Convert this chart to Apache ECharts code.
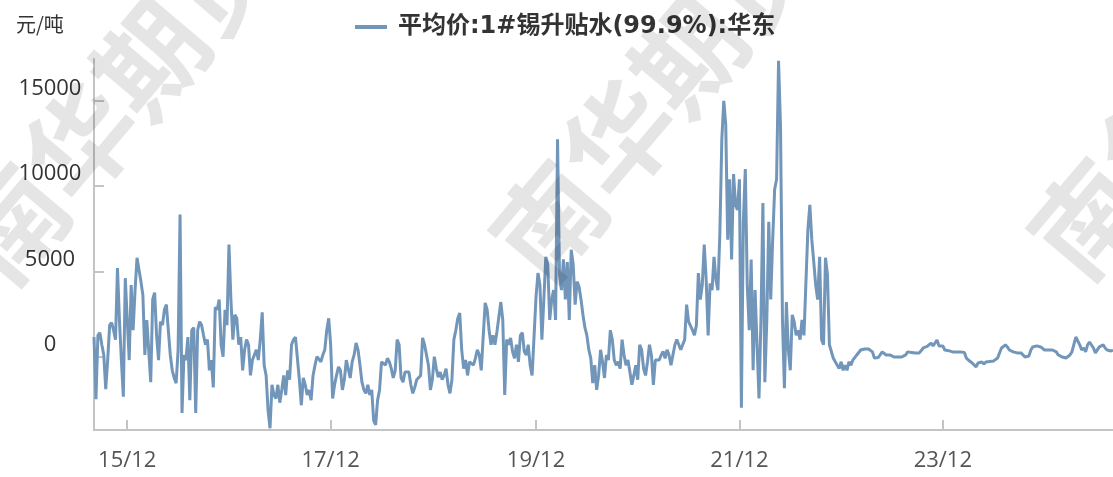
<!DOCTYPE html>
<html><head><meta charset="utf-8">
<script src="https://cdn.jsdelivr.net/npm/echarts@6/dist/echarts.min.js"></script>
<style>html,body{margin:0;padding:0;background:#fff}#c{width:1113px;height:477px}</style>
</head><body><div id="c"></div>
<script>
const seriesName = '平均价:1#锡升贴水(99.9%):华东';
const unitLabel = '元/吨';
const watermarkText = '南华期货';
const firstWeek = '2015-08-07';
const xTickDates = ['2015-12-04','2017-12-01','2019-12-06','2021-12-03','2023-12-01'];
const yTickValues = [0, 5000, 10000, 15000];

// weekly values
const valsA = [1150,-2500,1250,1400,700,100,-1900,-200,1850,2000,
1550,1000,5200,2150,-200,-2350,4600,2150,-200,4200,
1550,3900,5800,5100,4400,3600,100,2150,2250,-1500,
3350,3750,1250,-200,2050,1850,2750,3050,1550,100,
-800,-1250,-1550,400,8330,-3300,100,-200,1150,-2550,
1550,1700,-3300,1550,2050,1850,1250,700,1000,-800,
-200,-1800,2900,2750,3350,700,0,2750,1850,6570,
3350,1000,2450,2250,700,1150,-800,400,1000,700,
-1100,-200,100,400,-200,1000,2600,-500,-1100,-3150,
-4200,-1650,-2250,-2450,-1650,-2700,-1950,-1100,-2250,-800,
-1350];
const valsB = [700,1000,1150,1250,-1350,-2850,-1250,-1650,-2250,-1950,
-2550,-1100,-500,0,-100,-300,100,400,1550,2250,
700,-2450,-1650,-1100,-600,-800,-1950,-1350,-200,-300,
-1250,-300,100,800,400,-500,-1500,-1950,-2150,-1650,
-2250,-1950,-3750,-4000,-2550,-1950,-300,-200,-500,-100,
-300,-700,-1250,-800,1000,700,-1250,-1500,-900,-800,
-900,-1650,-2150,-1800,-1350,-1250,-1100,1100,700,100,
-500,-1950,-1350,0,-700,-1200,-900,-1350,-1100,-700,
-1650,-2150,-1350,1000,1550,2250,2550,400,-700,-200,
-1100,-300,-200,-500,-100,400,100];
const valsC = [-800,-900,3150,2750,1550,700,1250,700,1450,1550,
3200,2150,-2250,1000,700,1100,300,-100,700,-300,
1250,1400,300,100,700,-500,-1100,-1100,3500,4900,
4200,1000,3350,5850,5400,2150,3350,3900,2150,12740,
4800,3900,5700,3350,5550,2150,6270,5400,3050,4400,
4100,3350,2450,1700,1250,400,-100,-1550,-500,-1950,
-1100,400,-300,-1250,100,-200,1550,1000,-200,-500,
-300,-700,1000,100,-500,-200,-900,-1650,-1100,-500,
-1350,700,400,-700,-1100,-300,700,100,-1650,-200,
-100,-200,100,300,-100,400,100];
const valsD = [-500,100,700,1000,700,400,700,1000,3050,2050,
1800,1550,1250,1850,4900,3350,4200,6570,4500,1250,
4300,3900,5850,4500,3900,7250,12740,15000,13600,6860,
10400,5700,10700,8900,8600,10400,-3000,7900,11000,4200,
1550,5700,-800,3900,700,-2450,2150,9000,-1500,2150,
7900,3350,6860,9800,10400,17350,13500,2150,-1850,3200,
400,-800,2450,2050,1250,1550,1000,2150,1250,1250,
7450,8900,6860,5550,4200,3350,5850,1000,700,5800,
4800,700,300,-100,-300,-500,-700,-300,-800,-500,
-800,-300,-500,-200,-100,100,0];
const valsE = [390,390,450,450,450,450,280,-80,-80,-50,
-50,280,390,100,100,100,0,-20,-20,-20,
-20,-20,0,100,280,280,250,220,220,220,
220,300,510,510,600,690,800,630,800,980,
630,570,630,390,390,350,280,280,280,280,
280,280,280,250,-80,-200,-250,-370,-370,-600,
-370,-310,-310,-430,-310,-310,-280,-250,-250,-200,
-80,-50,510,570,690,570,390,330,280,280,
220,220,220,100,-20,-20,40,390,570,630,
630,570,570,510,390,450,390,390,390,390,
280,100,100,-20,-80,-80,-20,100,280,390,
1150,920,690,390,510,280,690,860,860,510,
220,330,570,570,690,510,390,390,330,390];

const values = [].concat(valsA, valsB, valsC, valsD, valsE);
const categories = [];
(function () {
  let t = Date.parse(firstWeek + 'T00:00:00Z');
  for (let i = 0; i < values.length; i++) {
    categories.push(new Date(t).toISOString().slice(0, 10));
    t += 7 * 86400000;
  }
})();

const showTick = (idx, val) => xTickDates.indexOf(val) >= 0;
const fmt = v => v.slice(2, 4) + '/' + v.slice(5, 7);
const axisColor = '#c4c4c4';
const wmFont = '"Noto Sans CJK SC", sans-serif';
const wm = (x, y) => ({
  type: 'text', x: x, y: y, rotation: 0.87, z: 100, silent: true,
  style: {text: watermarkText, fontSize: 108, fontWeight: 'bold', fontFamily: wmFont,
          fill: 'rgba(0,0,0,0.10)', align: 'center', verticalAlign: 'middle'}
});

const chart = echarts.init(document.getElementById('c'), null, {renderer: 'canvas'});
chart.setOption({
  animation: false,
  backgroundColor: '#ffffff',
  title: {
    text: unitLabel, left: 11, top: 9,
    textStyle: {fontSize: 20, fontWeight: 'normal', color: '#333', fontFamily: '"Noto Sans CJK SC", sans-serif'}
  },
  legend: {
    left: 355, top: 15, padding: 0,
    icon: 'rect', itemWidth: 32, itemHeight: 4,
    textStyle: {fontSize: 24, fontWeight: 'bold', color: '#333', fontFamily: '"DejaVu Sans", "Noto Sans CJK SC", sans-serif', padding: [0, 0, 0, 6]},
    data: [seriesName]
  },
  grid: {left: 94, right: 0, top: 59, bottom: 47, containLabel: false},
  xAxis: {
    type: 'category', data: categories, boundaryGap: false,
    axisLine: {onZero: false, lineStyle: {color: axisColor, width: 2}},
    axisTick: {show: true, inside: true, length: 10, interval: showTick, lineStyle: {color: axisColor, width: 2}},
    axisLabel: {interval: showTick, formatter: fmt, margin: 20, fontSize: 22, color: '#555', fontFamily: '"Open Sans", sans-serif'},
    splitLine: {show: false}
  },
  yAxis: {
    type: 'value', min: -4300, max: 17450,
    axisLine: {show: true, lineStyle: {color: axisColor, width: 2}},
    axisTick: {show: true, inside: true, length: 10, customValues: yTickValues, lineStyle: {color: axisColor, width: 2}},
    axisLabel: {customValues: yTickValues, formatter: v => String(v), align: 'center', margin: 44, fontSize: 22, color: '#333', fontFamily: '"Open Sans", sans-serif', verticalAlign: 'bottom', lineHeight: 24},
    splitLine: {show: false}
  },
  graphic: [wm(116, 100), wm(654, 97), wm(1192, 95)],
  series: [{
    name: seriesName, type: 'line', data: values,
    showSymbol: false, symbol: 'none', smooth: false,
    lineStyle: {color: '#7196BA', width: 3},
    itemStyle: {color: '#7196BA'}
  }]
});
</script>
</body></html>
